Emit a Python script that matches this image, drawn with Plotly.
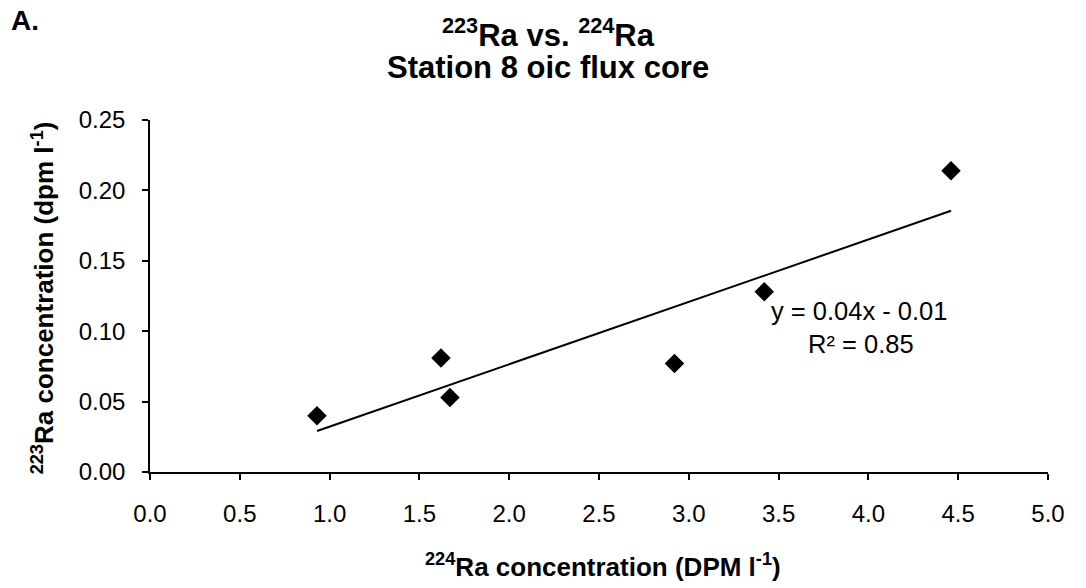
import numpy as np
import plotly.graph_objects as go

# 224Ra vs 223Ra concentrations, Station 8 oic flux core
ra224 = [0.93, 1.62, 1.67, 2.92, 3.42, 4.46]
ra223 = [0.040, 0.081, 0.053, 0.077, 0.128, 0.214]

x_ticks = [0.0, 0.5, 1.0, 1.5, 2.0, 2.5, 3.0, 3.5, 4.0, 4.5, 5.0]
y_ticks = [0.00, 0.05, 0.10, 0.15, 0.20, 0.25]

eq_text = "y = 0.04x - 0.01"
r2_text = "R² = 0.85"

FONT = "Liberation Sans, Arial, Helvetica, sans-serif"

# least-squares linear trendline over the data span
slope, intercept = np.polyfit(ra224, ra223, 1)
fit_x = [min(ra224), max(ra224)]
fit_y = [slope * v + intercept for v in fit_x]

fig = go.Figure()
fig.add_trace(go.Scatter(
    x=fit_x, y=fit_y, mode="lines",
    line=dict(color="black", width=2),
    hoverinfo="skip", showlegend=False,
))
fig.add_trace(go.Scatter(
    x=ra224, y=ra223, mode="markers",
    marker=dict(symbol="diamond", size=15, color="black"),
    showlegend=False,
))

axis_common = dict(
    showgrid=False, zeroline=False, showline=True,
    linecolor="black", linewidth=1.5,
    ticks="outside", tickcolor="black", tickwidth=1.5, ticklen=6,
    tickfont=dict(family=FONT, size=24, color="black"),
)

fig.update_xaxes(range=[0, 5], tickvals=x_ticks,
                 ticktext=[f"{v:.1f}" for v in x_ticks],
                 ticklabelstandoff=13, **axis_common)
fig.update_yaxes(range=[0, 0.25], tickvals=y_ticks,
                 ticktext=[f"{v:.2f}" for v in y_ticks],
                 ticklabelstandoff=12, **axis_common)

ann = [
    dict(text="<b>A.</b>", x=-0.139, y=1.2825, size=28),
    dict(text="<b><sup>223</sup>Ra vs. <sup>224</sup>Ra</b>", x=0.4437, y=1.2484, size=31),
    dict(text="<b>Station 8 oic flux core</b>", x=0.4437, y=1.149, size=31),
    dict(text="<b><sup>224</sup>Ra concentration (DPM l<sup>-1</sup>)</b>", x=0.504, y=-0.265, size=26),
    dict(text=eq_text, x=0.790, y=0.456, size=25.5),
    dict(text=r2_text, x=0.792, y=0.365, size=25.5),
]
for a in ann:
    fig.add_annotation(
        text=a["text"], x=a["x"], y=a["y"], xref="paper", yref="paper",
        xanchor="center", yanchor="middle", showarrow=False,
        font=dict(family=FONT, size=a["size"], color="black"),
    )
fig.add_annotation(
    text="<b><sup>223</sup>Ra concentration (dpm l<sup>-1</sup>)</b>",
    x=-0.1192, y=0.496, xref="paper", yref="paper",
    xanchor="center", yanchor="middle", textangle=-90, showarrow=False,
    font=dict(family=FONT, size=26, color="black"),
)

fig.update_layout(
    width=1086, height=588,
    margin=dict(l=150, r=38, t=120, b=116),
    paper_bgcolor="white", plot_bgcolor="white",
)

fig.write_html("out.html")
